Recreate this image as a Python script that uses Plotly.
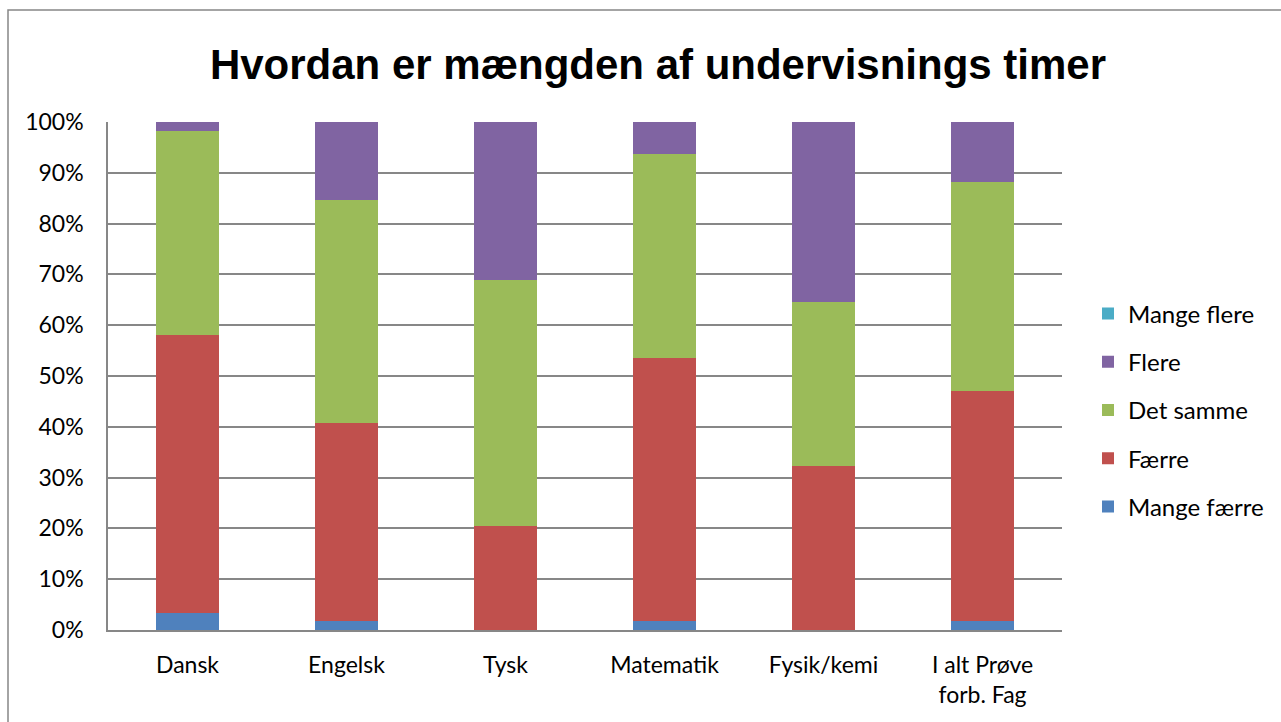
import plotly.graph_objects as go

categories = ["Dansk", "Engelsk", "Tysk", "Matematik", "Fysik/kemi", "I alt Prøve<br>forb. Fag"]
series_names = ["Mange færre", "Færre", "Det samme", "Flere", "Mange flere"]
mange_faerre = [3.3, 1.7, 0.0, 1.7, 0.0, 1.8]
faerre = [54.8, 39.0, 20.5, 51.8, 32.2, 45.2]
det_samme = [40.2, 43.9, 48.4, 40.2, 32.4, 41.1]
flere = [1.7, 15.4, 31.1, 6.3, 35.4, 11.9]
mange_flere = [0.0, 0.0, 0.0, 0.0, 0.0, 0.0]
series_values = [mange_faerre, faerre, det_samme, flere, mange_flere]
colors = ["#4F81BD", "#C0504D", "#9BBB59", "#8064A2", "#4BACC6"]
y_ticks = [0, 10, 20, 30, 40, 50, 60, 70, 80, 90, 100]
y_tick_labels = [f"{v}%" for v in y_ticks]

fig = go.Figure()
for i, (name, vals, col) in enumerate(zip(series_names, series_values, colors)):
    fig.add_trace(go.Bar(
        x=categories, y=vals, name=name, legendgroup=name, legendrank=10 - i,
        marker=dict(color=col, line=dict(width=0)),
    ))

W, H = 1281, 722
L, R, T, B = 108, 1062, 122, 630
pw, ph = R - L, B - T
FONT = "Lato, Open Sans, Liberation Sans, Arial"

fig.update_layout(
    width=W, height=H,
    barmode="stack", bargap=0.6,
    margin=dict(l=L, r=W - R, t=T, b=H - B, autoexpand=False),
    paper_bgcolor="white", plot_bgcolor="white",
    font=dict(family=FONT, color="black", size=23),
    title=dict(text="<b>Hvordan er mængden af undervisnings timer</b>",
               x=658 / W, xanchor="center", y=1 - 64 / H, yanchor="middle",
               font=dict(size=42, family="Liberation Sans, Arial", color="black")),
    legend=dict(x=(1088 - L) / pw, xanchor="left", y=(B - 410) / ph, yanchor="middle",
                traceorder="grouped", tracegroupgap=14,
                font=dict(size=24, family=FONT), itemwidth=30, bgcolor="rgba(0,0,0,0)"),
    showlegend=True,
    yaxis=dict(range=[0, 100], tickvals=y_ticks, ticktext=y_tick_labels,
               showgrid=True, gridcolor="#878787", gridwidth=1.5,
               showline=True, linecolor="#878787", linewidth=1.5,
               ticks="", ticklabelstandoff=18,
               zeroline=False, tickfont=dict(size=23)),
    xaxis=dict(showline=True, linecolor="#878787", linewidth=1.5,
               ticks="", ticklabelstandoff=14, tickfont=dict(size=23)),
    shapes=[dict(type="rect", xref="paper", yref="paper",
                 x0=(8 - L) / pw, x1=(1290 - L) / pw,
                 y0=(B - 740) / ph, y1=1 + (T - 10) / ph,
                 line=dict(color="#878787", width=1.5), fillcolor="rgba(0,0,0,0)", layer="below")],
)

fig.write_html("out.html", config={"displayModeBar": False},
               post_script="document.body.style.margin='0';")
